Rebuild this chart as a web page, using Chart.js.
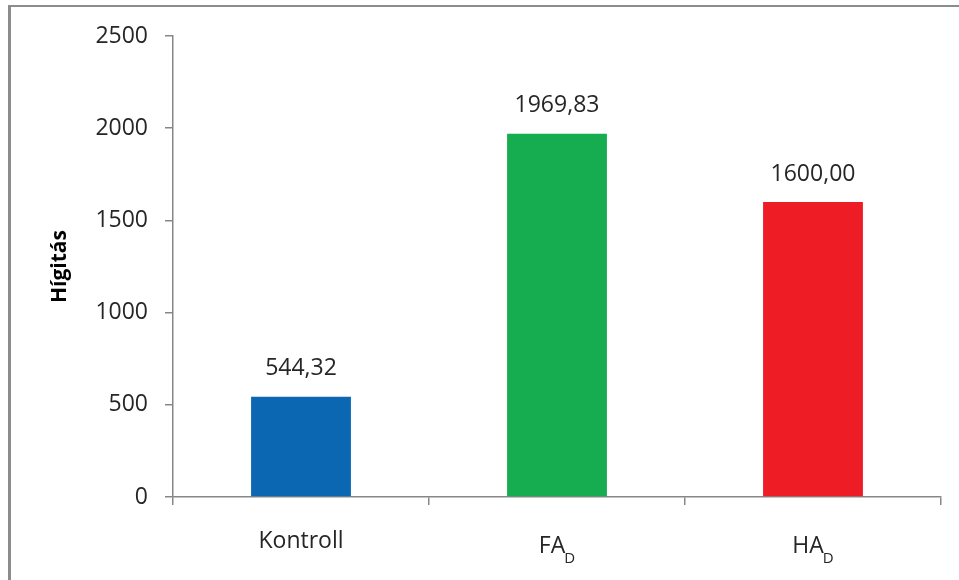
<!DOCTYPE html>
<html>
<head>
<meta charset="utf-8">
<script src="https://cdn.jsdelivr.net/npm/chart.js@4/dist/chart.umd.min.js"></script>
<style>
  html, body { margin: 0; padding: 0; background: #fff; }
  #wrap { width: 959px; height: 580px; position: relative; }
</style>
</head>
<body>
<div id="wrap"><canvas id="c" width="959" height="580"></canvas></div>
<script>
const categories = ["Kontroll", "FA", "HA"];
const subscripts = ["", "D", "D"];
const values = [544.32, 1969.83, 1600.00];
const barColors = ["#0B67B2", "#16AD50", "#EE1C25"];
const yTitle = "Hígitás";
const yMin = 0, yMax = 2500, yStep = 500;

const FONT = "'Open Sans', 'Noto Sans', sans-serif";
const AXIS = "#878787";
const TEXT = "#262626";

const framePlugin = {
  id: 'frame',
  beforeDraw(chart) {
    const ctx = chart.ctx;
    ctx.save();
    ctx.fillStyle = '#fff';
    ctx.fillRect(0, 0, chart.width, chart.height);
    ctx.fillStyle = '#8c8c8c';
    ctx.fillRect(8, 5, 3, chart.height - 5);
    ctx.fillRect(8, 5, chart.width - 8, 2);
    ctx.restore();
  }
};

const labelsPlugin = {
  id: 'customLabels',
  afterDraw(chart) {
    const ctx = chart.ctx;
    const meta = chart.getDatasetMeta(0);
    ctx.save();
    ctx.fillStyle = TEXT;
    // value labels
    ctx.font = "23px " + FONT;
    ctx.textAlign = 'center';
    ctx.textBaseline = 'middle';
    meta.data.forEach((bar, i) => {
      const txt = values[i].toFixed(2).replace('.', ',');
      ctx.fillText(txt, bar.x, bar.y - 28);
    });
    // category labels with subscripts
    const xs = chart.scales.x;
    ctx.textAlign = 'left';
    ctx.textBaseline = 'alphabetic';
    categories.forEach((cat, i) => {
      const cx = xs.getPixelForTick(i);
      ctx.font = "23px " + FONT;
      const w1 = ctx.measureText(cat).width;
      ctx.font = "15px " + FONT;
      const gap = -1;
      const w2 = subscripts[i] ? ctx.measureText(subscripts[i]).width + gap : 0;
      const start = cx - (w1 + w2) / 2;
      const base = subscripts[i] ? 553 : 548;
      ctx.font = "23px " + FONT;
      ctx.fillText(cat, start, base);
      if (subscripts[i]) {
        ctx.font = "15px " + FONT;
        ctx.fillText(subscripts[i], start + w1 + gap, base + 10);
      }
    });
    ctx.restore();
  }
};

new Chart(document.getElementById('c'), {
  type: 'bar',
  data: {
    labels: categories,
    datasets: [{
      data: values,
      backgroundColor: barColors,
      borderWidth: 0,
      categoryPercentage: 1.0,
      barPercentage: 0.39
    }]
  },
  options: {
    responsive: false,
    animation: false,
    devicePixelRatio: 1,
    layout: { padding: { top: 36, right: 18, bottom: 0, left: 0 } },
    plugins: {
      legend: { display: false },
      tooltip: { enabled: false },
      title: { display: false }
    },
    scales: {
      x: {
        offset: true,
        afterFit(s) { s.height = 83; },
        grid: {
          display: true,
          offset: true,
          drawOnChartArea: false,
          drawTicks: true,
          tickLength: 8,
          color: AXIS,
          lineWidth: 1.5
        },
        border: { display: true, color: AXIS, width: 1.5 },
        ticks: { color: 'rgba(0,0,0,0)', font: { family: FONT, size: 23 } }
      },
      y: {
        min: yMin,
        max: yMax,
        afterFit(s) { s.width = 173; },
        grid: {
          display: true,
          drawOnChartArea: false,
          drawTicks: true,
          tickLength: 8,
          color: AXIS,
          lineWidth: 1.5
        },
        border: { display: true, color: AXIS, width: 1.5 },
        ticks: {
          stepSize: yStep,
          padding: 17,
          color: TEXT,
          font: { family: FONT, size: 23 },
          callback: (v) => String(v)
        },
        title: {
          display: true,
          text: yTitle,
          color: '#000',
          font: { family: FONT, size: 21, weight: 'bold' },
          padding: { top: 47, bottom: 0 }
        }
      }
    }
  },
  plugins: [framePlugin, labelsPlugin]
});
</script>
</body>
</html>
